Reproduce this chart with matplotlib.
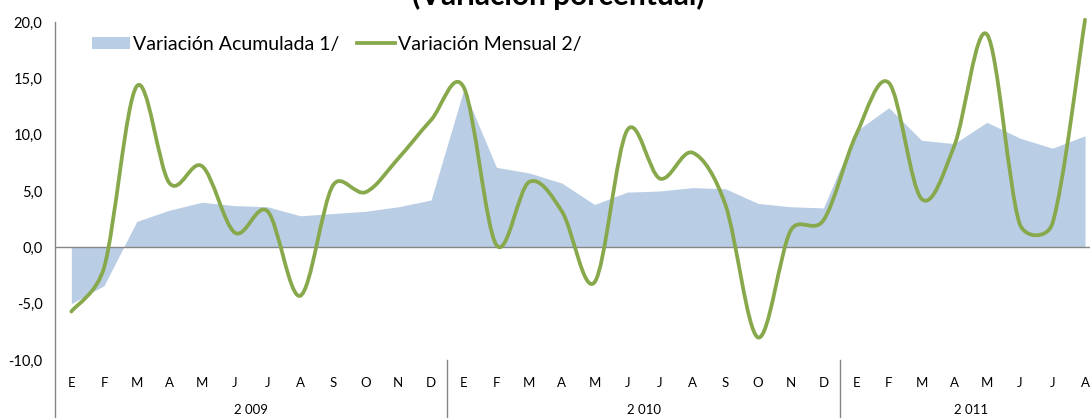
import matplotlib
matplotlib.use("Agg")
import matplotlib.pyplot as plt
import numpy as np
from matplotlib.path import Path
from matplotlib.patches import PathPatch, Patch
from matplotlib.lines import Line2D
import matplotlib.transforms as mtransforms

# ---------------- data ----------------
months = ["E", "F", "M", "A", "M", "J", "J", "A", "S", "O", "N", "D",
          "E", "F", "M", "A", "M", "J", "J", "A", "S", "O", "N", "D",
          "E", "F", "M", "A", "M", "J", "J", "A"]
years = ["2 009", "2 010", "2 011"]
year_lengths = [12, 12, 8]

acumulada = [-5.0, -3.4, 2.3, 3.3, 4.0, 3.7, 3.6, 2.8, 3.0, 3.2, 3.6, 4.2,
             14.0, 7.1, 6.6, 5.7, 3.8, 4.9, 5.0, 5.3, 5.2, 3.9, 3.6, 3.5,
             10.3, 12.4, 9.5, 9.2, 11.1, 9.7, 8.8, 9.9]
mensual = [-5.7, -1.8, 14.3, 5.7, 7.2, 1.3, 3.2, -4.3, 5.5, 4.9, 7.9, 11.3,
           14.2, 0.2, 5.8, 3.2, -3.1, 10.4, 6.1, 8.4, 3.8, -8.0, 1.5, 2.4,
           10.0, 14.6, 4.3, 9.0, 18.9, 2.1, 2.1, 20.2]

yticks = [-10, -5, 0, 5, 10, 15, 20]
title = "(Variación porcentual)"
label_acum = "Variación Acumulada 1/"
label_mens = "Variación Mensual 2/"

# ---------------- style ----------------
FONT = ["Lato", "DejaVu Sans"]
plt.rcParams["font.family"] = FONT
AREA_C = "#B9CDE5"
LINE_C = "#87A84B"
AXIS_C = "#868686"

W, H = 1090, 418
fig = plt.figure(figsize=(W / 100, H / 100), dpi=100)
left_px, right_px, top_px, bot_px = 55, 1090, 22, 360
ax = fig.add_axes([left_px / W, 1 - bot_px / H,
                   (right_px - left_px) / W, (bot_px - top_px) / H])

x = np.arange(len(months))
step_px = 32.7
ax.set_xlim(-0.5, -0.5 + (right_px - left_px) / step_px)
ax.set_ylim(-10, 20)

# area
ax.fill_between(x, 0, acumulada, color=AREA_C, linewidth=0, zorder=1)

# smoothed line: Excel-style Bezier smoothing computed in screen space
pts_d = np.column_stack([x, mensual]).astype(float)
pts = ax.transData.transform(pts_d)
n = len(pts)
verts = [pts[0]]
codes = [Path.MOVETO]
for i in range(n - 1):
    p0 = pts[i - 1] if i > 0 else pts[i]
    p1 = pts[i]
    p2 = pts[i + 1]
    p3 = pts[i + 2] if i + 2 < n else pts[i + 1]
    d12 = np.hypot(*(p2 - p1))
    d02 = np.hypot(*(p2 - p0))
    d13 = np.hypot(*(p3 - p1))
    f0 = 1 / 6 if d02 / 6 < d12 / 2 else d12 / (2 * d02)
    f1 = 1 / 6 if d13 / 6 < d12 / 2 else d12 / (2 * d13)
    c1 = p1 + (p2 - p0) * f0
    c2 = p2 - (p3 - p1) * f1
    verts += [c1, c2, p2]
    codes += [Path.CURVE4] * 3
verts_d = ax.transData.inverted().transform(np.array(verts))
path = Path(verts_d, codes)
ax.add_patch(PathPatch(path, facecolor="none", edgecolor=LINE_C, lw=2.7,
                       capstyle="round", joinstyle="round", zorder=3,
                       clip_on=False))

# zero axis line
ax.axhline(0, color=AXIS_C, lw=1.0, zorder=2)

# spines
for s in ax.spines.values():
    s.set_visible(False)

blend = mtransforms.blended_transform_factory(ax.transData, ax.transAxes)
ext = -(H - bot_px) / (bot_px - top_px)
ax.plot([-0.5, -0.5], [ext, 1.0], color=AXIS_C, lw=1.0, transform=blend,
        clip_on=False, zorder=2)

# y ticks
ax.set_yticks(yticks)
ax.set_yticklabels([f"{v:.1f}".replace(".", ",") for v in yticks])
ax.tick_params(axis="y", length=0, pad=9, labelsize=10.5, labelcolor="#000000")
ax.set_xticks([])

# month labels
month_y = -(383 - bot_px) / (bot_px - top_px)
year_y = -(410 - bot_px) / (bot_px - top_px)
for xi, m in zip(x, months):
    ax.text(xi, month_y, m, transform=blend, ha="center", va="center",
            fontsize=9.5, clip_on=False)

start = 0
for yr, ln in zip(years, year_lengths):
    ax.text(start + (ln - 1) / 2, year_y, yr,
            transform=blend, ha="center", va="center", fontsize=9.5,
            clip_on=False)
    start += ln
    if start < len(months):
        ax.plot([start - 0.5, start - 0.5], [ext, 0.0], color=AXIS_C, lw=1.0,
                transform=blend, clip_on=False)

# legend
handles = [Patch(facecolor=AREA_C, edgecolor="none", label=label_acum),
           Line2D([0], [0], color=LINE_C, lw=2.7, label=label_mens)]
ax.legend(handles=handles, loc="upper left", ncol=2, frameon=False,
          bbox_to_anchor=((92 - left_px) / (right_px - left_px),
                          1 - (36 - top_px) / (bot_px - top_px)),
          fontsize=14, handlelength=1.95, handleheight=0.62,
          handletextpad=0.15, columnspacing=0.93, borderaxespad=0,
          borderpad=0)

# title (cut off at the top, as in the reference)
fig.text(558 / W, 1 - 5 / H, title, ha="center", va="baseline",
         fontsize=21.5, fontweight="bold")

fig.savefig("out.png", dpi=100)
